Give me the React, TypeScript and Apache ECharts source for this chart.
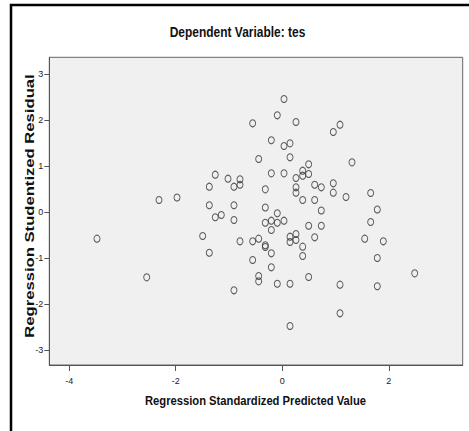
import React, { useEffect, useRef } from "react";
import * as echarts from "echarts";

// Regression Standardized Predicted Value
const predicted = [
  -3.478, -2.545, -2.314, -1.976, 0.032, -0.094, -0.556, 0.257, -0.206, 0.032,
  0.145, -0.443, 0.145, -0.206, 0.032, 0.495, 0.383, 0.383, 0.495, 0.257,
  -1.258, -1.019, -0.794, -0.794, -0.907, -1.37, -0.319, 0.257, 0.257, 0.608,
  0.732, 0.383, 0.608, -1.37, -0.907, -0.319, 0.732, -1.258, -1.145, -0.907,
  -0.319, -0.206, -0.094, -0.094, 0.032, -0.206, 0.495, 0.732, -1.494, -0.794,
  -0.556, -0.443, -0.319, 0.145, 0.145, 0.257, 0.257, 0.383, 0.608, -1.37,
  -0.206, 0.383, -0.556, -0.206, -0.443, -0.443, -0.094, 0.145, 0.495, -0.907,
  0.145, 0.957, 1.083, 1.308, 0.957, 0.957, 1.196, 1.659, 1.783, 1.659,
  1.547, 1.896, 1.783, 2.485, 1.083, 1.783, 1.083, -0.319,
];
// Regression Studentized Residual
const residual = [
  -0.58, -1.42, 0.261, 0.315, 2.457, 2.102, 1.928, 1.957, 1.559, 1.435,
  1.493, 1.152, 1.189, 0.841, 0.841, 1.037, 0.898, 0.789, 0.826, 0.739,
  0.811, 0.724, 0.711, 0.593, 0.55, 0.55, 0.493, 0.537, 0.42, 0.593,
  0.537, 0.261, 0.261, 0.146, 0.146, 0.098, 0.033, -0.115, -0.065, -0.174,
  -0.233, -0.189, -0.028, -0.233, -0.189, -0.391, -0.298, -0.298, -0.522, -0.637,
  -0.637, -0.58, -0.724, -0.537, -0.652, -0.478, -0.609, -0.754, -0.55, -0.885,
  -0.898, -0.957, -1.043, -1.202, -1.391, -1.507, -1.559, -1.559, -1.413, -1.702,
  -2.478, 1.739, 1.898, 1.08, 0.624, 0.42, 0.326, 0.413, 0.054, -0.217,
  -0.58, -0.637, -1.0, -1.333, -1.58, -1.615, -2.202, -0.76,
];
const xTicks = [-4, -2, 0, 2];
const yTicks = [-3, -2, -1, 0, 1, 2, 3];

const titleText = "Dependent Variable: tes";
const xName = "Regression Standardized Predicted Value";
const yName = "Regression Studentized Residual";

const SANS = "'Liberation Sans', Arial, sans-serif";

export default function App() {
  const ref = useRef<HTMLDivElement>(null);
  useEffect(() => {
    if (!ref.current) return;
    const chart = echarts.init(ref.current, undefined, { renderer: "svg" });
    const data = predicted.map((x, i) => [x, residual[i]]);
    chart.setOption({
      animation: false,
      backgroundColor: "#ffffff",
      grid: {
        left: 49.3,
        right: 6.3,
        top: 57.3,
        bottom: 66,
        show: true,
        backgroundColor: "#f0f0f0",
        borderColor: "#666666",
        borderWidth: 1,
      },
      xAxis: {
        type: "value",
        min: -4.373,
        max: 3.386,
        splitLine: { show: false },
        axisLine: { show: true, onZero: false, lineStyle: { color: "#555555", width: 1 } },
        axisTick: {
          show: true,
          length: 6,
          lineStyle: { color: "#555555" },
          customValues: xTicks,
        },
        axisLabel: {
          customValues: xTicks,
          margin: 11,
          fontSize: 9,
          color: "#222222",
          fontFamily: SANS,
        },
      },
      yAxis: {
        type: "value",
        min: -3.326,
        max: 3.363,
        splitLine: { show: false },
        axisLine: { show: true, onZero: false, lineStyle: { color: "#555555", width: 1 } },
        axisTick: {
          show: true,
          length: 5,
          lineStyle: { color: "#555555" },
          customValues: yTicks,
        },
        axisLabel: {
          customValues: yTicks,
          margin: 6,
          fontSize: 9,
          color: "#222222",
          fontFamily: SANS,
        },
      },
      graphic: [
        {
          type: "rect",
          shape: { x: 11, y: 5, width: 480, height: 460 },
          style: { fill: "none", stroke: "#000000", lineWidth: 2.5 },
          silent: true,
        },
        {
          type: "text",
          x: 237.5,
          y: 32,
          scaleX: 0.855,
          style: {
            text: titleText,
            textAlign: "center",
            textVerticalAlign: "middle",
            font: `bold 14px ${SANS}`,
            fill: "#111111",
          },
        },
        {
          type: "text",
          x: 255.5,
          y: 401,
          scaleX: 0.863,
          style: {
            text: xName,
            textAlign: "center",
            textVerticalAlign: "middle",
            font: `bold 13px ${SANS}`,
            fill: "#111111",
          },
        },
        {
          type: "text",
          x: 29,
          y: 206,
          rotation: Math.PI / 2,
          scaleX: 1.28,
          style: {
            text: yName,
            textAlign: "center",
            textVerticalAlign: "middle",
            font: `bold 13px ${SANS}`,
            fill: "#111111",
          },
        },
      ],
      series: [
        {
          type: "scatter",
          data,
          symbol: "circle",
          symbolSize: [6, 7],
          itemStyle: {
            color: "transparent",
            borderColor: "#333333",
            borderWidth: 1,
          },
          emphasis: { disabled: true },
        },
      ],
    });
    return () => chart.dispose();
  }, []);
  return (
    <div
      ref={ref}
      style={{ position: "fixed", left: 0, top: 0, width: 469, height: 431 }}
    />
  );
}
